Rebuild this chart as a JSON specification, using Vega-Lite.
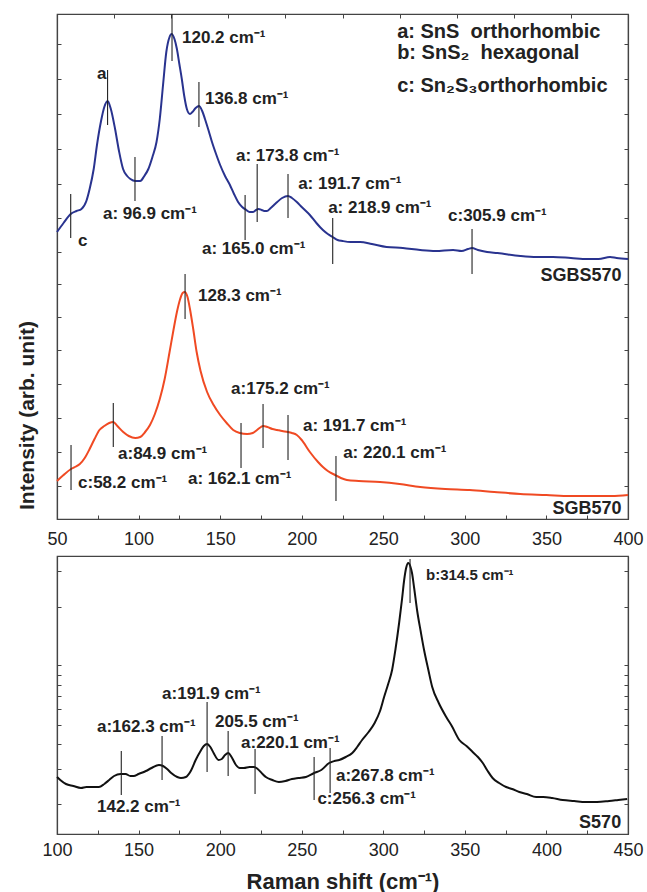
{
  "$schema": "https://vega.github.io/schema/vega-lite/v6.json",
  "padding": {"left": 15, "top": 12, "right": 5, "bottom": 5},
  "background": "white",
  "spacing": 6,
  "config": {
    "font": "Liberation Sans",
    "view": {"stroke": "#444", "strokeWidth": 1.2},
    "axis": {
      "domainColor": "#444", "domainWidth": 1.2, "tickColor": "#444", "tickSize": -4, "tickWidth": 1,
      "grid": false, "labelFont": "Liberation Sans", "labelFontSize": 18, "labelColor": "#222", "labelFlush": false,
      "titleFont": "Liberation Sans", "titleFontWeight": "bold", "titleColor": "#222"
    }
  },
  "datasets": {
    "blue": [
      {"x":50,"y":287},{"x":54,"y":296},{"x":58.4,"y":305},{"x":62,"y":308},{"x":65,"y":310},{"x":68,"y":318},{"x":70,"y":330},{"x":72.5,"y":350},{"x":74.5,"y":374},{"x":77,"y":398},{"x":79,"y":412},{"x":81,"y":418},{"x":83,"y":410},{"x":85.6,"y":390},{"x":88,"y":368},{"x":90.5,"y":350},{"x":93,"y":343},{"x":95,"y":340},{"x":98,"y":338},{"x":101,"y":338},{"x":103.5,"y":343},{"x":106,"y":350},{"x":108.5,"y":362},{"x":111,"y":377},{"x":113,"y":400},{"x":115,"y":434},{"x":117,"y":467},{"x":119,"y":482},{"x":120.2,"y":485},{"x":122,"y":480},{"x":123.5,"y":470},{"x":125,"y":455},{"x":126.5,"y":440},{"x":128,"y":423},{"x":129.6,"y":410},{"x":131.5,"y":405},{"x":133,"y":407},{"x":135,"y":411},{"x":137,"y":413},{"x":139,"y":408},{"x":140.7,"y":400},{"x":143,"y":388},{"x":145,"y":377},{"x":147.5,"y":365},{"x":150,"y":354},{"x":153,"y":343},{"x":156,"y":334},{"x":158.5,"y":325},{"x":161,"y":317},{"x":163.5,"y":312},{"x":166,"y":309},{"x":168,"y":307},{"x":170,"y":307},{"x":172,"y":309},{"x":173.5,"y":310},{"x":175.5,"y":309},{"x":177,"y":308},{"x":178.6,"y":308},{"x":181,"y":311},{"x":183,"y":314},{"x":185,"y":317},{"x":188,"y":321},{"x":191.6,"y":323},{"x":194,"y":321},{"x":197,"y":317},{"x":200,"y":312},{"x":205,"y":304},{"x":209,"y":296},{"x":213,"y":289},{"x":216,"y":285},{"x":219,"y":282},{"x":222,"y":279},{"x":225,"y":278},{"x":230,"y":277},{"x":235.8,"y":277},{"x":243,"y":275},{"x":252,"y":272},{"x":262,"y":271},{"x":272.6,"y":269},{"x":282,"y":268},{"x":292.8,"y":269},{"x":298,"y":268},{"x":302,"y":270},{"x":304.4,"y":271},{"x":308,"y":269},{"x":313.6,"y":267},{"x":320,"y":266},{"x":334,"y":263},{"x":344,"y":262},{"x":354,"y":262},{"x":365,"y":261},{"x":375,"y":260},{"x":382,"y":260},{"x":389,"y":262},{"x":393,"y":261},{"x":400,"y":260}
    ],
    "red": [
      {"x":50,"y":38},{"x":54,"y":44},{"x":58.6,"y":50},{"x":61,"y":52},{"x":64,"y":55},{"x":67,"y":61},{"x":70,"y":70},{"x":73,"y":80},{"x":76,"y":89},{"x":79,"y":93},{"x":82,"y":96},{"x":84.5,"y":97},{"x":87,"y":93},{"x":90.6,"y":87},{"x":94,"y":83},{"x":98,"y":81},{"x":101,"y":82},{"x":104,"y":87},{"x":107,"y":94},{"x":110,"y":105},{"x":113,"y":120},{"x":116,"y":140},{"x":119,"y":167},{"x":121.5,"y":190},{"x":123.5,"y":207},{"x":125.5,"y":220},{"x":127,"y":226},{"x":128.3,"y":227},{"x":130,"y":222},{"x":131.5,"y":210},{"x":133.5,"y":190},{"x":135.6,"y":167},{"x":138,"y":148},{"x":142,"y":127},{"x":146,"y":114},{"x":150,"y":104},{"x":154,"y":96},{"x":158,"y":89},{"x":162,"y":86},{"x":166.5,"y":85},{"x":170,"y":86},{"x":172.6,"y":89},{"x":175,"y":92},{"x":176.4,"y":93},{"x":179,"y":92},{"x":182,"y":90},{"x":185,"y":89},{"x":188,"y":88},{"x":191.6,"y":87},{"x":194,"y":86},{"x":197,"y":84},{"x":200,"y":79},{"x":205,"y":67},{"x":210,"y":57},{"x":213,"y":52},{"x":216,"y":48},{"x":220.4,"y":44},{"x":224,"y":41},{"x":227.7,"y":39},{"x":235,"y":38},{"x":248,"y":37},{"x":260,"y":35},{"x":272.6,"y":32},{"x":288,"y":30},{"x":303,"y":29},{"x":318,"y":27},{"x":334,"y":25},{"x":350,"y":24},{"x":364.5,"y":23},{"x":380,"y":23},{"x":390,"y":23},{"x":400,"y":24}
    ],
    "black": [
      {"x":100,"y":57},{"x":102,"y":54},{"x":105.5,"y":50},{"x":110,"y":48},{"x":114.7,"y":46},{"x":118,"y":47},{"x":120,"y":47},{"x":125.7,"y":47},{"x":129,"y":50},{"x":132,"y":54},{"x":135,"y":58},{"x":139,"y":60},{"x":142,"y":60},{"x":145,"y":58},{"x":147,"y":58},{"x":150,"y":60},{"x":154.5,"y":63},{"x":158,"y":66},{"x":162.5,"y":69},{"x":165,"y":68},{"x":167.5,"y":65},{"x":170,"y":61},{"x":173.7,"y":57},{"x":176,"y":56},{"x":179,"y":57},{"x":182,"y":63},{"x":185,"y":74},{"x":188,"y":83},{"x":190,"y":88},{"x":192,"y":90},{"x":194,"y":87},{"x":196,"y":81},{"x":199,"y":74},{"x":201,"y":75},{"x":203,"y":79},{"x":205,"y":81},{"x":207,"y":77},{"x":209.7,"y":69},{"x":212,"y":66},{"x":214.6,"y":66},{"x":218,"y":67},{"x":220.8,"y":67},{"x":223,"y":65},{"x":226,"y":60},{"x":228,"y":57},{"x":232,"y":54},{"x":236,"y":52},{"x":240,"y":53},{"x":244,"y":55},{"x":248,"y":56},{"x":252.6,"y":57},{"x":257.6,"y":61},{"x":262,"y":64},{"x":266.8,"y":71},{"x":270,"y":73},{"x":273,"y":74},{"x":277,"y":77},{"x":281,"y":81},{"x":284,"y":87},{"x":287,"y":94},{"x":291,"y":102},{"x":294.7,"y":111},{"x":298,"y":123},{"x":300.5,"y":137},{"x":303,"y":150},{"x":305.4,"y":164},{"x":307.5,"y":185},{"x":309.7,"y":211},{"x":311.5,"y":235},{"x":312.8,"y":254},{"x":314,"y":266},{"x":315.3,"y":271},{"x":316.5,"y":268},{"x":317.6,"y":261},{"x":319,"y":245},{"x":320.7,"y":224},{"x":323,"y":202},{"x":325,"y":184},{"x":327.5,"y":165},{"x":330,"y":147},{"x":334,"y":131},{"x":338.6,"y":117},{"x":342,"y":108},{"x":346.6,"y":94},{"x":351,"y":88},{"x":354.8,"y":82},{"x":358,"y":77},{"x":361,"y":71},{"x":364,"y":63},{"x":367,"y":56},{"x":371,"y":51},{"x":375.3,"y":47},{"x":379,"y":45},{"x":383.4,"y":42},{"x":388,"y":40},{"x":393.7,"y":37},{"x":398,"y":37},{"x":403.5,"y":36},{"x":410,"y":34},{"x":417,"y":33},{"x":424,"y":32},{"x":431,"y":32},{"x":438.4,"y":33},{"x":444,"y":34},{"x":449.5,"y":35}
    ],
    "topRules": [
      {"x":58.4,"y":281,"y2":325},{"x":81,"y":394,"y2":449},{"x":97.8,"y":318,"y2":362},{"x":120.5,"y":458,"y2":505},{"x":137,"y":392,"y2":437},{"x":165.3,"y":279,"y2":324},{"x":172.7,"y":297,"y2":355},{"x":191.6,"y":301,"y2":345},{"x":219,"y":255,"y2":301},{"x":304.4,"y":245,"y2":290},
      {"x":58.6,"y":29,"y2":74},{"x":84.5,"y":72,"y2":116},{"x":128.5,"y":200,"y2":245},{"x":162.8,"y":51,"y2":96},{"x":176.3,"y":71,"y2":115},{"x":191.6,"y":59,"y2":104},{"x":221,"y":18,"y2":63}
    ],
    "topLabels": [
      {"x":74.5,"y":445,"label":"a"},{"x":62.9,"y":278,"label":"c"},
      {"x":126.6,"y":481,"label":"120.2 cm⁻¹"},{"x":140.7,"y":420,"label":"136.8 cm⁻¹"},
      {"x":78.2,"y":305,"label":"a: 96.9 cm⁻¹"},{"x":138.9,"y":270,"label":"a: 165.0 cm⁻¹"},
      {"x":159.7,"y":363,"label":"a: 173.8 cm⁻¹"},{"x":197.8,"y":335,"label":"a: 191.7 cm⁻¹"},
      {"x":216.2,"y":311,"label":"a: 218.9 cm⁻¹"},{"x":289.7,"y":303,"label":"c:305.9 cm⁻¹"},
      {"x":62.9,"y":36,"label":"c:58.2 cm⁻¹"},{"x":87.4,"y":65,"label":"a:84.9 cm⁻¹"},
      {"x":136.5,"y":223,"label":"128.3 cm⁻¹"},{"x":130.3,"y":40,"label":"a: 162.1 cm⁻¹"},
      {"x":156.7,"y":130,"label":"a:175.2 cm⁻¹"},{"x":200.8,"y":93,"label":"a: 191.7 cm⁻¹"},
      {"x":225.4,"y":66,"label":"a: 220.1 cm⁻¹"}
    ],
    "legendText": [
      {"x":258.5,"y":487.5,"label":"a: SnS\u00a0\u00a0orthorhombic"},
      {"x":258.5,"y":466,"label":"b: SnS₂\u00a0\u00a0hexagonal"},
      {"x":258.5,"y":433.5,"label":"c: Sn₂S₃orthorhombic"}
    ],
    "topNames": [
      {"x":396,"y":243,"label":"SGBS570"},
      {"x":396,"y":10,"label":"SGB570"}
    ],
    "botRules": [
      {"x":139.4,"y":39,"y2":83},{"x":164.4,"y":54,"y2":98},{"x":192,"y":62,"y2":132},{"x":204.9,"y":58,"y2":103},{"x":221.4,"y":40,"y2":85},{"x":257.6,"y":34,"y2":77},{"x":267.4,"y":41,"y2":86},{"x":316.4,"y":231,"y2":275}
    ],
    "botLabels": [
      {"x":124.5,"y":27,"label":"142.2 cm⁻¹"},{"x":124.5,"y":107,"label":"a:162.3 cm⁻¹"},
      {"x":164.4,"y":140,"label":"a:191.9 cm⁻¹"},{"x":196.9,"y":112,"label":"205.5 cm⁻¹"},
      {"x":212.8,"y":91,"label":"a:220.1 cm⁻¹"},{"x":259.6,"y":35,"label":"c:256.3 cm⁻¹"},
      {"x":271,"y":58,"label":"a:267.8 cm⁻¹"}
    ],
    "botPeak": [{"x":326.2,"y":259,"label":"b:314.5 cm⁻¹"}],
    "botName": [{"x":445.8,"y":11,"label":"S570"}]
  },
  "vconcat": [
    {
      "width": 571,
      "height": 505,
      "layer": [
        {
          "data": {"name": "blue"},
          "mark": {"type": "line", "color": "#29338f", "strokeWidth": 2, "interpolate": "monotone"},
          "encoding": {
            "x": {"field": "x", "type": "quantitative",
                  "scale": {"domain": [50, 400], "nice": false, "zero": false},
                  "axis": {"orient": "bottom", "title": null, "values": [50,75,100,125,150,175,200,225,250,275,300,325,350,375,400],
                           "labelExpr": "datum.value % 50 === 0 ? datum.label : ''", "labelPadding": 15}},
            "y": {"field": "y", "type": "quantitative",
                  "scale": {"domain": [0, 505], "nice": false, "zero": false},
                  "axis": {"orient": "left", "labels": false, "values": [33,67,101,135,169,202,235,267,301,335,370,405,440,475],
                           "title": "Intensity (arb. unit)", "titleFontSize": 21, "titleAngle": -90,
                           "titleX": -24, "titleY": 401, "titleBaseline": "alphabetic", "titleAlign": "center"}}
          }
        },
        {
          "data": {"name": "red"},
          "mark": {"type": "line", "color": "#f04a23", "strokeWidth": 2, "interpolate": "monotone"},
          "encoding": {
            "x": {"field": "x", "type": "quantitative", "axis": null},
            "y": {"field": "y", "type": "quantitative", "axis": null}
          }
        },
        {
          "data": {"name": "topRules"},
          "mark": {"type": "rule", "color": "#222", "strokeWidth": 1.1},
          "encoding": {
            "x": {"field": "x", "type": "quantitative",
                  "axis": {"orient": "top", "labels": false, "title": null, "values": [85,120,155,190,225,260,295,330,365]}},
            "y": {"field": "y", "type": "quantitative",
                  "axis": {"orient": "right", "labels": false, "title": null, "values": [33,67,101,135,169,202,235,267,301,335,370,405,440,475]}},
            "y2": {"field": "y2"}
          }
        },
        {
          "data": {"name": "topLabels"},
          "mark": {"type": "text", "align": "left", "baseline": "middle", "fontSize": 17, "fontWeight": "bold", "color": "#222"},
          "encoding": {
            "x": {"field": "x", "type": "quantitative", "axis": null},
            "y": {"field": "y", "type": "quantitative", "axis": null},
            "text": {"field": "label"}
          }
        },
        {
          "data": {"name": "legendText"},
          "mark": {"type": "text", "align": "left", "baseline": "middle", "fontSize": 20, "fontWeight": "bold", "color": "#222"},
          "encoding": {
            "x": {"field": "x", "type": "quantitative", "axis": null},
            "y": {"field": "y", "type": "quantitative", "axis": null},
            "text": {"field": "label"}
          }
        },
        {
          "data": {"name": "topNames"},
          "mark": {"type": "text", "align": "right", "baseline": "middle", "fontSize": 18, "fontWeight": "bold", "color": "#222"},
          "encoding": {
            "x": {"field": "x", "type": "quantitative", "axis": null},
            "y": {"field": "y", "type": "quantitative", "axis": null},
            "text": {"field": "label"}
          }
        }
      ]
    },
    {
      "width": 571,
      "height": 278,
      "resolve": {"axis": {"x": "independent"}},
      "layer": [
        {
          "data": {"name": "black"},
          "mark": {"type": "line", "color": "#111", "strokeWidth": 2, "interpolate": "monotone"},
          "encoding": {
            "x": {"field": "x", "type": "quantitative",
                  "scale": {"domain": [100, 450], "nice": false, "zero": false},
                  "axis": {"orient": "bottom", "values": [100,150,200,250,300,350,400,450], "tickSize": 0, "labelPadding": 7,
                           "title": "Raman shift (cm⁻¹)", "titleFontSize": 22, "titlePadding": 12}},
            "y": {"field": "y", "type": "quantitative",
                  "scale": {"domain": [0, 278], "nice": false, "zero": false},
                  "axis": {"orient": "left", "labels": false, "title": null, "values": [30,65,90,109,125,138,149,159,169,227,263]}}
          }
        },
        {
          "data": {"name": "botRules"},
          "mark": {"type": "rule", "color": "#222", "strokeWidth": 1.1},
          "encoding": {
            "x": {"field": "x", "type": "quantitative",
                  "axis": {"orient": "bottom", "labels": false, "title": null, "values": [100,125,150,175,200,225,250,275,300,325,350,375,400,425,450]}},
            "y": {"field": "y", "type": "quantitative",
                  "axis": {"orient": "right", "labels": false, "title": null, "values": [30,65,90,109,125,138,149,159,169,227,263]}},
            "y2": {"field": "y2"}
          }
        },
        {
          "data": {"name": "botLabels"},
          "mark": {"type": "text", "align": "left", "baseline": "middle", "fontSize": 17, "fontWeight": "bold", "color": "#222"},
          "encoding": {
            "x": {"field": "x", "type": "quantitative", "axis": null},
            "y": {"field": "y", "type": "quantitative", "axis": null},
            "text": {"field": "label"}
          }
        },
        {
          "data": {"name": "botPeak"},
          "mark": {"type": "text", "align": "left", "baseline": "middle", "fontSize": 15, "fontWeight": "bold", "color": "#222"},
          "encoding": {
            "x": {"field": "x", "type": "quantitative", "axis": null},
            "y": {"field": "y", "type": "quantitative", "axis": null},
            "text": {"field": "label"}
          }
        },
        {
          "data": {"name": "botName"},
          "mark": {"type": "text", "align": "right", "baseline": "middle", "fontSize": 18, "fontWeight": "bold", "color": "#222"},
          "encoding": {
            "x": {"field": "x", "type": "quantitative", "axis": null},
            "y": {"field": "y", "type": "quantitative", "axis": null},
            "text": {"field": "label"}
          }
        }
      ]
    }
  ]
}
